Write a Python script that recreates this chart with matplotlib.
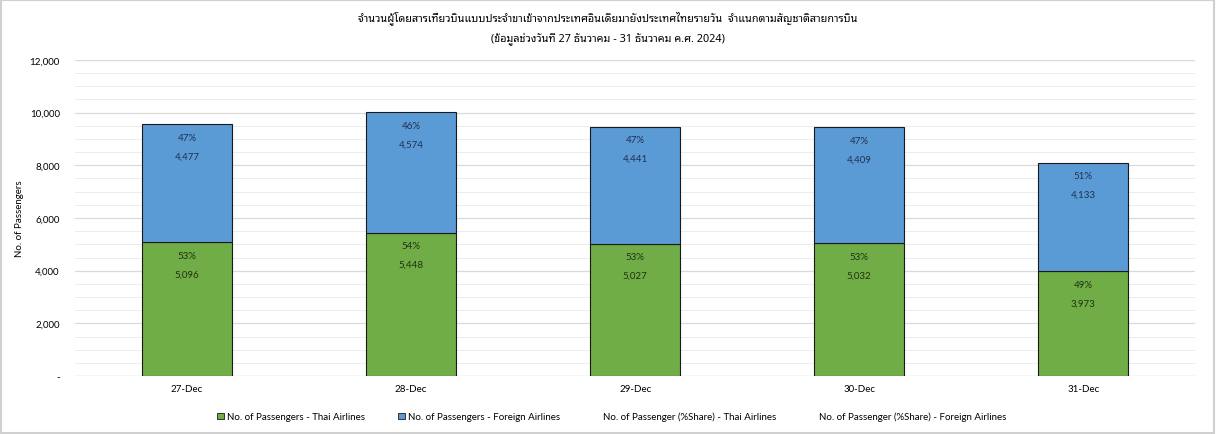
import numpy as np
import matplotlib
matplotlib.use("Agg")
import matplotlib.pyplot as plt
from matplotlib.patches import Patch
from matplotlib.ticker import MultipleLocator, FuncFormatter

dates = ["27-Dec", "28-Dec", "29-Dec", "30-Dec", "31-Dec"]
thai = [5096, 5448, 5027, 5032, 3973]
foreign = [4477, 4574, 4441, 4409, 4133]
thai_share = [53, 54, 53, 53, 49]
foreign_share = [47, 46, 47, 47, 51]

title = ("จำนวนผู้โดยสารเที่ยวบินแบบประจำขาเข้าจากประเทศอินเดียมายังประเทศไทยรายวัน  จำแนกตามสัญชาติสายการบิน\n"
         "(ข้อมูลช่วงวันที่ 27 ธันวาคม - 31 ธันวาคม ค.ศ. 2024)")

plt.rcParams['font.family'] = ['Lato', 'DejaVu Sans']

green = "#70AD47"
blue = "#5B9BD5"

fig = plt.figure(figsize=(12.16, 4.35), dpi=100)
ax = fig.add_axes([0.0617, 0.1333, 0.9213, 0.7265])

x = np.arange(len(dates))
ax.bar(x, thai, width=0.4, color=green, edgecolor="#1a1a1a", linewidth=0.8, zorder=3)
ax.bar(x, foreign, width=0.4, bottom=thai, color=blue, edgecolor="#1a1a1a", linewidth=0.8, zorder=3)

for i in range(len(dates)):
    top1 = thai[i]
    top2 = thai[i] + foreign[i]
    for top, pct, val, col in [(top1, thai_share[i], thai[i], "#203010"),
                               (top2, foreign_share[i], foreign[i], "#1F3050")]:
        ax.annotate(f"{pct}%", (x[i], top), xytext=(0, -9.5), textcoords="offset points",
                    ha="center", va="center", fontsize=7, color=col)
        ax.annotate(f"{val:,}", (x[i], top), xytext=(0, -23), textcoords="offset points",
                    ha="center", va="center", fontsize=7, color=col)

ax.set_xlim(-0.5, len(dates) - 0.5)
ax.set_ylim(0, 12000)
ax.set_xticks(x)
ax.set_xticklabels(dates, fontsize=7)
ax.yaxis.set_major_locator(MultipleLocator(2000))
ax.yaxis.set_minor_locator(MultipleLocator(500))
ax.yaxis.set_major_formatter(FuncFormatter(lambda v, p: "-" if v == 0 else f"{int(v):,}"))
ax.tick_params(axis="y", labelsize=7, length=0, pad=11, which="both")
ax.tick_params(axis="x", length=0, pad=6)
ax.grid(axis="y", which="major", color="#d9d9d9", linewidth=0.9, zorder=0)
ax.grid(axis="y", which="minor", color="#ededed", linewidth=0.7, zorder=0)
for s in ax.spines.values():
    s.set_visible(False)
ax.axhline(0, color="#d9d9d9", linewidth=0.9, zorder=1)
ax.set_ylabel("No. of Passengers", fontsize=7, labelpad=4)

fig.text(0.5, 0.935, title, ha="center", va="center", fontsize=7.8, fontweight="bold",
         linespacing=1.75, family=['Noto Sans Thai Looped', 'Noto Sans'])

handles = [
    Patch(facecolor=green, edgecolor="#1a1a1a", linewidth=0.6),
    Patch(facecolor=blue, edgecolor="#1a1a1a", linewidth=0.6),
    Patch(facecolor="none", edgecolor="none"),
    Patch(facecolor="none", edgecolor="none"),
]
labels = ["No. of Passengers - Thai Airlines", "No. of Passengers - Foreign Airlines",
          "No. of Passenger (%Share) - Thai Airlines", "No. of Passenger (%Share) - Foreign Airlines"]
fig.legend(handles, labels, loc="center", bbox_to_anchor=(0.503, 0.04), ncol=4, frameon=False,
           fontsize=7, handlelength=0.7, handleheight=0.7, handletextpad=0.3, columnspacing=3.4)

fig.patches.append(plt.Rectangle((0.001, 0.002), 0.997, 0.996, transform=fig.transFigure,
                                 fill=False, edgecolor="#d0d0d0", linewidth=1.5))

fig.savefig("out.png", dpi=100)
